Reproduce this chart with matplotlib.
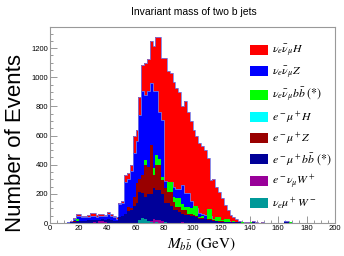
import numpy as np
import matplotlib
matplotlib.use("Agg")
import matplotlib.pyplot as plt
from matplotlib.patches import Patch
from matplotlib.ticker import MultipleLocator

plt.rcParams['font.family'] = ['Liberation Sans', 'DejaVu Sans']
plt.rcParams['mathtext.fontset'] = 'stix'

# 2 GeV bins from 10 to 180 GeV
bin_lo = 10
bin_w = 2

nn_H = [3, 8, 15, 35, 60, 60, 50, 48, 55, 66, 68, 58, 60, 65, 58, 75, 62, 48, 40, 137,
        150, 330, 340, 400, 600, 640, 866, 1084, 1100, 1122, 1248, 1216, 1273, 1273, 1129, 1129, 1040, 1030, 969, 924,
        900, 800, 840, 760, 700, 640, 600, 547, 530, 500, 443, 295, 300, 250, 210, 169, 123, 92, 58, 40,
        25, 15, 10, 8, 6, 10, 14, 5, 3, 4, 2, 3, 2, 2, 2, 3, 2, 14, 12, 5,
        3, 2, 0, 1, 0]
nn_Z = [2, 6, 10, 25, 45, 45, 40, 38, 40, 50, 50, 42, 45, 50, 45, 62, 50, 38, 30, 128,
        140, 283, 300, 360, 480, 560, 740, 905, 878, 905, 958, 905, 905, 760, 706, 290, 283, 283, 250, 230,
        230, 260, 204, 204, 150, 120, 100, 70, 60, 55, 40, 50, 30, 25, 20, 18, 15, 12, 8, 5,
        5, 8, 4, 3, 2, 3, 10, 2, 1, 2, 1, 1, 1, 1, 1, 1, 1, 12, 10, 3,
        1, 1, 0, 0, 0]
nn_bb = [0, 0, 2, 8, 30, 10, 8, 8, 10, 12, 10, 10, 12, 10, 10, 18, 10, 8, 8, 25,
         30, 60, 110, 100, 170, 250, 260, 300, 432, 380, 400, 380, 466, 440, 318, 230, 283, 283, 180, 170,
         170, 130, 112, 112, 100, 117, 117, 40, 45, 30, 94, 94, 30, 39, 39, 20, 28, 28, 10, 15,
         8, 6, 4, 3, 2, 4, 5, 2, 1, 1, 0, 1, 0, 0, 0, 1, 0, 5, 6, 5,
         1, 0, 0, 0, 0]
em_H = [0] * 26 + [8, 10, 10, 8, 12, 8, 8, 6, 5, 4] + [0] * 49
em_Z = [0, 2, 5, 12, 15, 15, 12, 12, 15, 20, 18, 15, 15, 18, 15, 20, 15, 12, 10, 30,
        35, 60, 112, 103, 180, 272, 300, 330, 398, 386, 535, 329, 398, 398, 295, 240, 215, 215, 146, 112,
        112, 89, 89, 62, 62, 55, 50, 35, 35, 30, 30, 25, 20, 15, 15, 12, 10, 8, 6, 4,
        3, 3, 2, 1, 1, 2, 3, 1, 0, 0, 0, 0, 0, 0, 0, 0, 0, 3, 2, 0,
        0, 0, 0, 0, 0]
em_bb = [1, 3, 6, 10, 15, 15, 15, 15, 18, 22, 20, 18, 20, 25, 20, 30, 22, 15, 12, 40,
         45, 60, 80, 90, 120, 135, 215, 204, 180, 200, 200, 238, 225, 225, 200, 135, 135, 120, 89, 89,
         75, 60, 55, 55, 50, 45, 40, 30, 28, 25, 22, 20, 15, 12, 10, 8, 8, 6, 5, 4,
         4, 5, 3, 2, 2, 2, 8, 2, 1, 2, 1, 1, 1, 1, 1, 2, 1, 10, 8, 2,
         1, 1, 0, 0, 0]
en_W = [0] * 10 + [5, 0, 15, 12, 5] + [0] * 11 + [10, 15, 0, 0, 15, 25, 18, 22, 12, 8] + [0] * 5 + [5] + [0] * 43
nm_W = [0] * 26 + [20, 35, 30, 15, 10, 0, 8, 0, 0, 5] + [0] * 49

labels = [r'$\nu_e\bar{\nu}_\mu H$', r'$\nu_e\bar{\nu}_\mu Z$', r'$\nu_e\bar{\nu}_\mu b\bar{b}\ (*)$',
          r'$e^-\mu^+ H$', r'$e^-\mu^+ Z$', r'$e^-\mu^+ b\bar{b}\ (*)$',
          r'$e^-\nu_\mu W^+$', r'$\nu_e\mu^+ W^-$']
colors = ['#ff0000', '#0000ff', '#00ff00', '#00ffff', '#990000', '#000099', '#990099', '#009999']
series = [nn_H, nn_Z, nn_bb, em_H, em_Z, em_bb, en_W, nm_W]

edges = bin_lo + bin_w * np.arange(len(nn_H) + 1)

fig = plt.figure(figsize=(3.44, 2.56), dpi=100)
ax = fig.add_axes([50 / 344, 1 - 223 / 256, 285 / 344, 196 / 256])

for i, (vals, col) in enumerate(zip(series, colors)):
    ax.stairs(vals, edges, fill=True, color=col, zorder=2 + i * 0.1)
    if i < 2:
        ax.stairs(vals, edges, fill=False, color='#7878e0', lw=0.6, zorder=2 + i * 0.1 + 0.01)

ax.set_xlim(0, 200)
ax.set_ylim(0, 1345)
ax.xaxis.set_major_locator(MultipleLocator(20))
ax.xaxis.set_minor_locator(MultipleLocator(5))
ax.yaxis.set_major_locator(MultipleLocator(200))
ax.yaxis.set_minor_locator(MultipleLocator(50))
ax.tick_params(which='both', direction='in', colors='#888888', labelcolor='black', labelsize=5.5, width=0.6,
               top=False, right=False, pad=1.5)
ax.tick_params(which='major', length=5)
ax.tick_params(which='minor', length=2.5)
for s in ax.spines.values():
    s.set_color('#999999')
    s.set_linewidth(0.8)

fig.text(194 / 344, 1 - 12 / 256, 'Invariant mass of two b jets', ha='center', va='center', fontsize=7.5)
fig.text(16 / 344, 1 - 143 / 256, 'Number of Events', rotation=90, ha='center', va='center', fontsize=16)
fig.text(201 / 344, 1 - 244 / 256, r'$M_{b\bar{b}}$ (GeV)', ha='center', va='center', fontsize=11,
         family='STIXGeneral')

handles = [Patch(facecolor=c, edgecolor='none') for c in colors]
ax.legend(handles, labels, loc='upper left', bbox_to_anchor=(244 / 344, 1 - 37 / 256),
          bbox_transform=fig.transFigure, frameon=False, fontsize=8.5, handlelength=1.5,
          handleheight=0.9, labelspacing=0.45, handletextpad=0.4, borderpad=0)

fig.savefig('out.png', dpi=100)
